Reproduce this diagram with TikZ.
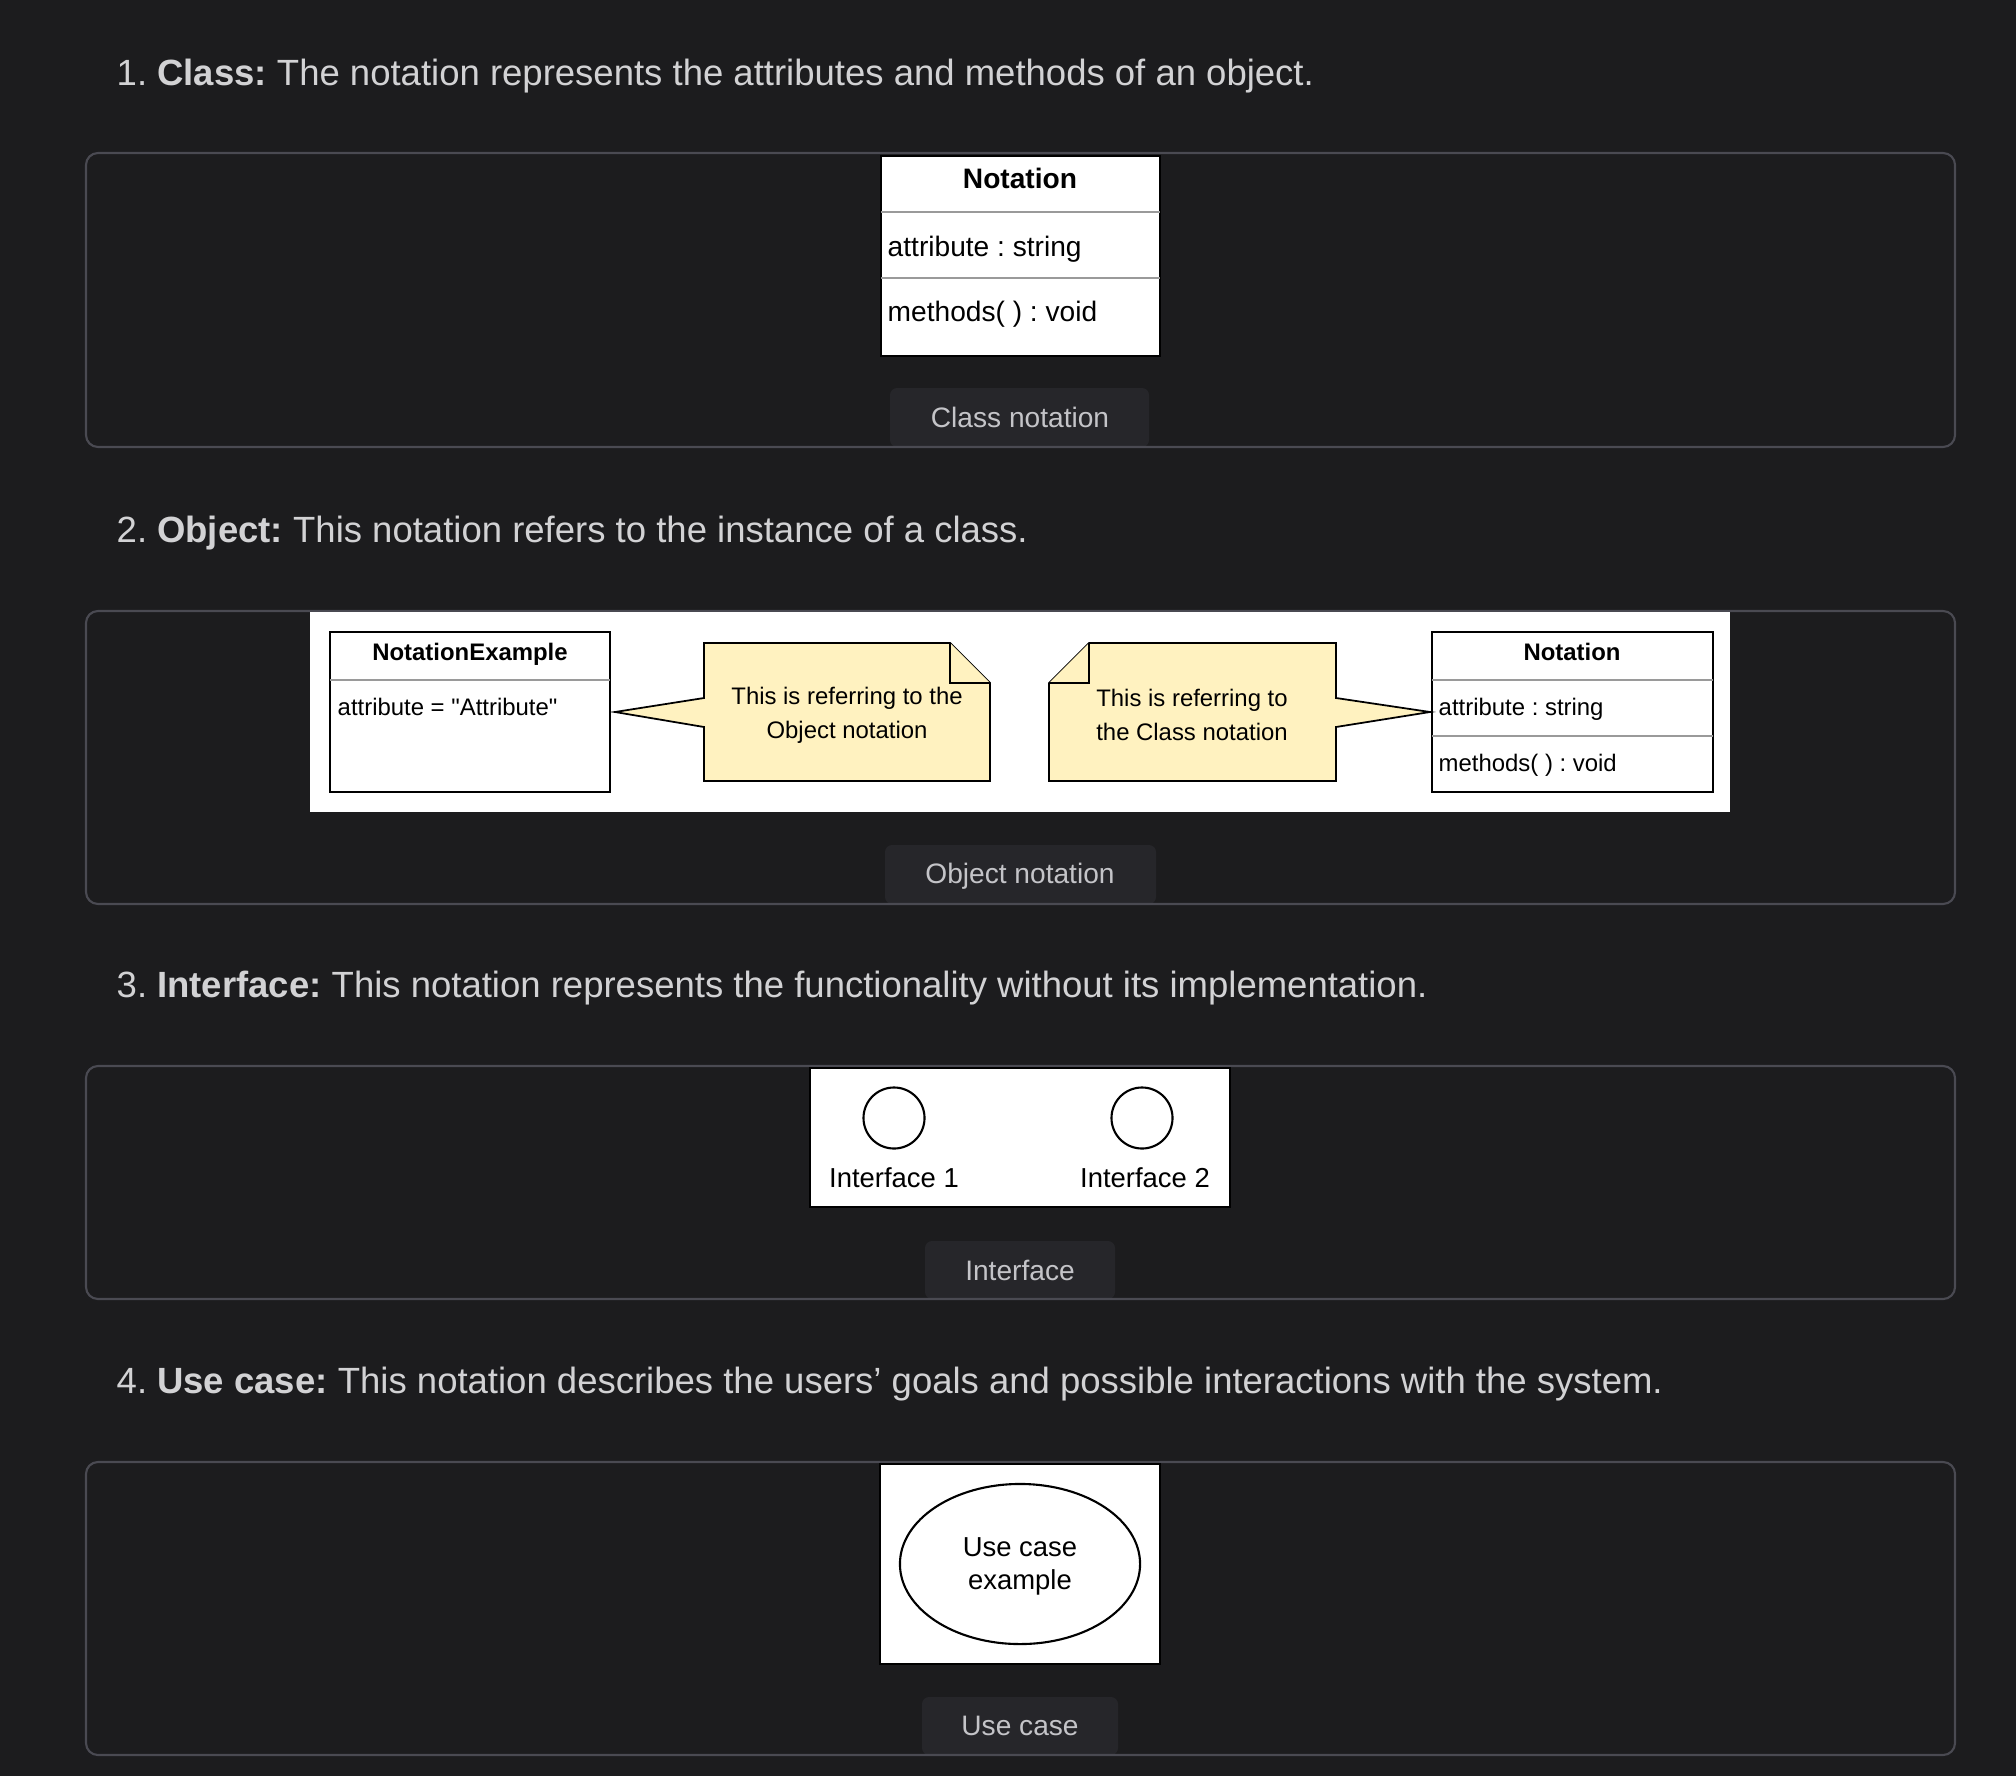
\documentclass[tikz,border=0pt]{standalone}
\usepackage{fontspec}
\setmainfont{Liberation Sans}
\usepackage{tikz}
\usetikzlibrary{positioning,shapes.geometric}
\frenchspacing

\definecolor{pagebg}{HTML}{1C1C1E}
\definecolor{panelline}{HTML}{4A4A52}
\definecolor{tabfill}{HTML}{26262A}
\definecolor{headtext}{HTML}{D2D2D4}
\definecolor{captext}{HTML}{C4C4C8}
\definecolor{notefill}{HTML}{FFF2C0}
\definecolor{rulegray}{HTML}{9A9A9A}

\tikzset{
  panel/.style={draw=panelline, line width=0.6pt, rounded corners=3.4pt},
  tab/.style={fill=tabfill, rounded corners=2pt},
  heading/.style={anchor=base west, inner sep=0, text=headtext, font=\fontsize{10.38}{13}\selectfont},
  caption/.style={inner sep=0, text height=0.72em, text depth=0pt, text=captext, font=\fontsize{8}{10}\selectfont},
  umlbox/.style={draw=black, fill=white, line width=0.6pt},
  divider/.style={draw=rulegray, line width=0.5pt},
  note/.style={draw=black, fill=notefill, line width=0.5pt, line join=miter},
  lbl/.style={inner sep=0, text height=0.72em, text depth=0pt, text=black},
  lines/.style={inner sep=0, align=center, text=black},
}

\begin{document}
\begin{tikzpicture}[x=0.01cm, y=-0.01cm]
  % Page
  \fill[pagebg] (0,0) rectangle (2016,1776);
  \useasboundingbox (0,0) rectangle (2016,1776);

  % Headings
  \node[heading] (h1) at (116,86) {1. \textbf{Class:} The notation represents the attributes and methods of an object.};
  \node[heading] (h2) at (116,542) {2. \textbf{Object:} This notation refers to the instance of a class.};
  \node[heading] (h3) at (116,997) {3. \textbf{Interface:} This notation represents the functionality without its implementation.};
  \node[heading] (h4) at (116,1393) {4. \textbf{Use case:} This notation describes the users’ goals and possible interactions with the system.};

  % Caption tabs
  \foreach \xa/\xb/\ya/\yb in {890/1149/388/447, 885/1156/845/904, 925/1115/1241/1299, 922/1118/1697/1755}
    { \fill[tab] (\xa,\ya) rectangle (\xb,\yb); }

  % Panels
  \foreach \ya/\yb in {153/447, 611/904, 1066/1299, 1462/1755}
    { \draw[panel] (86,\ya) rectangle (1955,\yb); }

  \node[caption] (cap1) at (1020,415) {Class notation};
  \node[caption] (cap2) at (1020,871) {Object notation};
  \node[caption] (cap3) at (1020,1268) {Interface};
  \node[caption] (cap4) at (1020,1723) {Use case};

  % 1. Class box
  \draw[umlbox] (881,156) rectangle (1160,356);
  \draw[divider] (881,212) -- (1160,212);
  \draw[divider] (881,278) -- (1160,278);
  \node[lbl, font=\bfseries\fontsize{8}{10}\selectfont] (cname) at (1020,176) {Notation};
  \node[lbl, anchor=west, font=\fontsize{8}{10}\selectfont] (cattr) at (887,244) {attribute : string};
  \node[lbl, anchor=west, font=\fontsize{8}{10}\selectfont] (cmeth) at (887,309) {methods( ) : void};

  % 2. Object canvas
  \fill[white] (310,612) rectangle (1730,812);
  \begin{scope}[every node/.append style={font=\fontsize{6.8}{9.6}\selectfont}]
    % object box
    \draw[umlbox] (330,632) rectangle (610,792);
    \draw[divider] (330,680) -- (610,680);
    \node[lbl, font=\bfseries\fontsize{6.8}{9.6}\selectfont] (oname) at (470,648) {NotationExample};
    \node[lbl, anchor=west] (oattr) at (337,703) {attribute = \textquotedbl Attribute\textquotedbl};
    % class box
    \draw[umlbox] (1432,632) rectangle (1713,792);
    \draw[divider] (1432,680) -- (1713,680);
    \draw[divider] (1432,736) -- (1713,736);
    \node[lbl, font=\bfseries\fontsize{6.8}{9.6}\selectfont] (rname) at (1572,648) {Notation};
    \node[lbl, anchor=west] (rattr) at (1438,703) {attribute : string};
    \node[lbl, anchor=west] (rmeth) at (1438,759) {methods( ) : void};
    % notes
    \draw[note] (704,643) -- (950,643) -- (990,683) -- (990,781) -- (704,781)
      -- (704,727) -- (615,712) -- (704,698) -- cycle;
    \draw[note] (950,643) -- (950,683) -- (990,683);
    \node[lines] (note1) at (847,715) {This is referring to the\\Object notation};
    \draw[note] (1089,643) -- (1336,643) -- (1336,698) -- (1430,712) -- (1336,727)
      -- (1336,781) -- (1049,781) -- (1049,683) -- cycle;
    \draw[note] (1089,643) -- (1089,683) -- (1049,683);
    \node[lines] (note2) at (1192,715) {This is referring to\\the Class notation};
  \end{scope}

  % 3. Interface
  \draw[umlbox] (810,1068) rectangle (1230,1207);
  \node[circle, draw=black, line width=0.6pt, minimum size=0.61cm, inner sep=0] (if1) at (894,1118) {};
  \node[circle, draw=black, line width=0.6pt, minimum size=0.61cm, inner sep=0] (if2) at (1142,1118) {};
  \node[lbl, font=\fontsize{7.8}{10}\selectfont] (if1lbl) at (894,1175) {Interface 1};
  \node[lbl, font=\fontsize{7.8}{10}\selectfont] (if2lbl) at (1145,1175) {Interface 2};

  % 4. Use case
  \draw[umlbox] (880,1464) rectangle (1160,1664);
  \node[ellipse, draw=black, line width=0.6pt, minimum width=2.4cm, minimum height=1.6cm, inner sep=0] (usecase) at (1020,1564) {};
  \node[lines, font=\fontsize{7.8}{9.4}\selectfont] (uclbl) at (1020,1566) {Use case\\example};
\end{tikzpicture}
\end{document}
